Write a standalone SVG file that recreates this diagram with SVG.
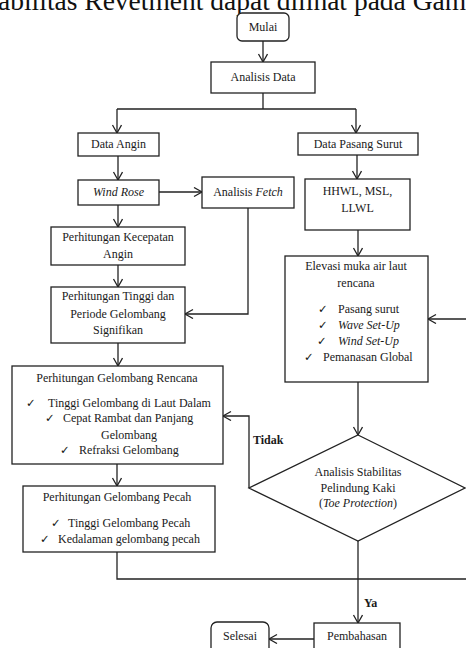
<svg xmlns="http://www.w3.org/2000/svg" width="466" height="648" viewBox="0 0 466 648">
<style>
.b{fill:#fff;stroke:#222;stroke-width:1.3}
.c{fill:none;stroke:#222;stroke-width:1.3}
.t{font-family:"Liberation Serif",serif;font-size:12px;fill:#1a1a1a;text-anchor:middle}
.l{font-family:"Liberation Serif",serif;font-size:12px;fill:#1a1a1a}
.k{font-family:"DejaVu Sans",sans-serif;font-size:11.5px;fill:#1a1a1a}
.bd{font-family:"Liberation Serif",serif;font-size:12px;font-weight:bold;fill:#1a1a1a}
</style>
<defs>
<marker id="a" markerUnits="userSpaceOnUse" markerWidth="12" markerHeight="12" refX="9" refY="5" orient="auto">
<path d="M1,0.5 L9,5 L1,9.5" fill="none" stroke="#222" stroke-width="1.3"/>
</marker>
</defs>
<text x="-2" y="10" style="font-family:'Liberation Serif',serif;font-size:27.5px;fill:#111">abilitas Revetment dapat dilihat pada Gambar</text>
<g id="connectors" class="c">
<path d="M263,41 V62" marker-end="url(#a)"/>
<path d="M263,93 V109 M117,109 H356"/>
<path d="M117,109 V133" marker-end="url(#a)"/>
<path d="M356,109 V133" marker-end="url(#a)"/>
<path d="M118,156 V180" marker-end="url(#a)"/>
<path d="M159,192 H202" marker-end="url(#a)"/>
<path d="M118,205 V227" marker-end="url(#a)"/>
<path d="M118,265 V287" marker-end="url(#a)"/>
<path d="M248,208 V314 H185" marker-end="url(#a)"/>
<path d="M118,343 V366" marker-end="url(#a)"/>
<path d="M117,464 V486" marker-end="url(#a)"/>
<path d="M357,155 V179" marker-end="url(#a)"/>
<path d="M358,230 V256" marker-end="url(#a)"/>
<path d="M358,382 V435" marker-end="url(#a)"/>
<path d="M249,488 V416 H223" marker-end="url(#a)"/>
<path d="M358,541 V623" marker-end="url(#a)"/>
<path d="M117,552 V579 H466"/>
<path d="M466,319 H428" marker-end="url(#a)"/>
<path d="M314,639 H269" marker-end="url(#a)"/>
</g>
<g id="mulai"><rect class="b" x="237" y="13" width="52" height="28" rx="5"/><text class="t" x="263" y="31">Mulai</text></g>
<g id="analisis-data"><rect class="b" x="211" y="62" width="104" height="31"/><text class="t" x="263" y="81">Analisis Data</text></g>
<g id="data-angin"><rect class="b" x="78" y="133" width="81" height="23"/><text class="t" x="118.5" y="148">Data Angin</text></g>
<g id="wind-rose"><rect class="b" x="78" y="180" width="81" height="25"/><text class="t" x="118.5" y="196" font-style="italic">Wind Rose</text></g>
<g id="analisis-fetch"><rect class="b" x="202" y="177" width="92" height="31"/><text class="t" x="248" y="196">Analisis <tspan font-style="italic">Fetch</tspan></text></g>
<g id="kecepatan-angin"><rect class="b" x="51" y="227" width="134" height="38"/><text class="t" x="118" y="241">Perhitungan Kecepatan</text><text class="t" x="118" y="258">Angin</text></g>
<g id="tinggi-periode"><rect class="b" x="51" y="287" width="134" height="56"/><text class="t" x="118" y="300">Perhitungan Tinggi dan</text><text class="t" x="118" y="318">Periode Gelombang</text><text class="t" x="118" y="334">Signifikan</text></g>
<g id="data-pasang-surut"><rect class="b" x="298" y="133" width="120" height="22"/><text class="t" x="358" y="148">Data Pasang Surut</text></g>
<g id="hhwl"><rect class="b" x="305" y="179" width="105" height="51"/><text class="t" x="357.5" y="195">HHWL, MSL,</text><text class="t" x="357.5" y="212">LLWL</text></g>
<g id="elevasi"><rect class="b" x="285" y="256" width="143" height="126"/>
<text class="t" x="356" y="270">Elevasi muka air laut</text><text class="t" x="356" y="287">rencana</text>
<text class="k" x="318" y="313">✓</text><text class="l" x="338" y="313">Pasang surut</text>
<text class="k" x="318" y="329">✓</text><text class="l" x="338" y="329" font-style="italic">Wave Set-Up</text>
<text class="k" x="317" y="345">✓</text><text class="l" x="338" y="345" font-style="italic">Wind Set-Up</text>
<text class="k" x="304" y="361">✓</text><text class="l" x="323" y="361">Pemanasan Global</text>
</g>
<g id="gelombang-rencana"><rect class="b" x="12" y="366" width="211" height="98"/>
<text class="t" x="117" y="382">Perhitungan Gelombang Rencana</text>
<text class="k" x="26" y="407">✓</text><text class="l" x="48" y="407">Tinggi Gelombang di Laut Dalam</text>
<text class="k" x="45" y="422">✓</text><text class="l" x="63" y="422">Cepat Rambat dan Panjang</text>
<text class="t" x="129" y="439">Gelombang</text>
<text class="k" x="60" y="454">✓</text><text class="l" x="79" y="454">Refraksi Gelombang</text>
</g>
<g id="gelombang-pecah"><rect class="b" x="23" y="486" width="192" height="66"/>
<text class="t" x="117" y="501">Perhitungan Gelombang Pecah</text>
<text class="k" x="51" y="527">✓</text><text class="l" x="68" y="527">Tinggi Gelombang Pecah</text>
<text class="k" x="40" y="543">✓</text><text class="l" x="58" y="543">Kedalaman gelombang pecah</text>
</g>
<g id="analisis-stabilitas"><polygon class="b" points="358,435 465,488 358,541 249,488"/>
<text class="t" x="358" y="476">Analisis Stabilitas</text><text class="t" x="358" y="492">Pelindung Kaki</text><text class="t" x="358" y="507">(<tspan font-style="italic">Toe Protection</tspan>)</text>
</g>
<g id="label-tidak"><text class="bd" x="253" y="444">Tidak</text></g>
<g id="label-ya"><text class="bd" x="364" y="607">Ya</text></g>
<g id="selesai"><rect class="b" x="211" y="622" width="58" height="40" rx="6"/><text class="t" x="240" y="640">Selesai</text></g>
<g id="pembahasan"><rect class="b" x="314" y="623" width="86" height="40"/><text class="t" x="357" y="640">Pembahasan</text></g>
</svg>
